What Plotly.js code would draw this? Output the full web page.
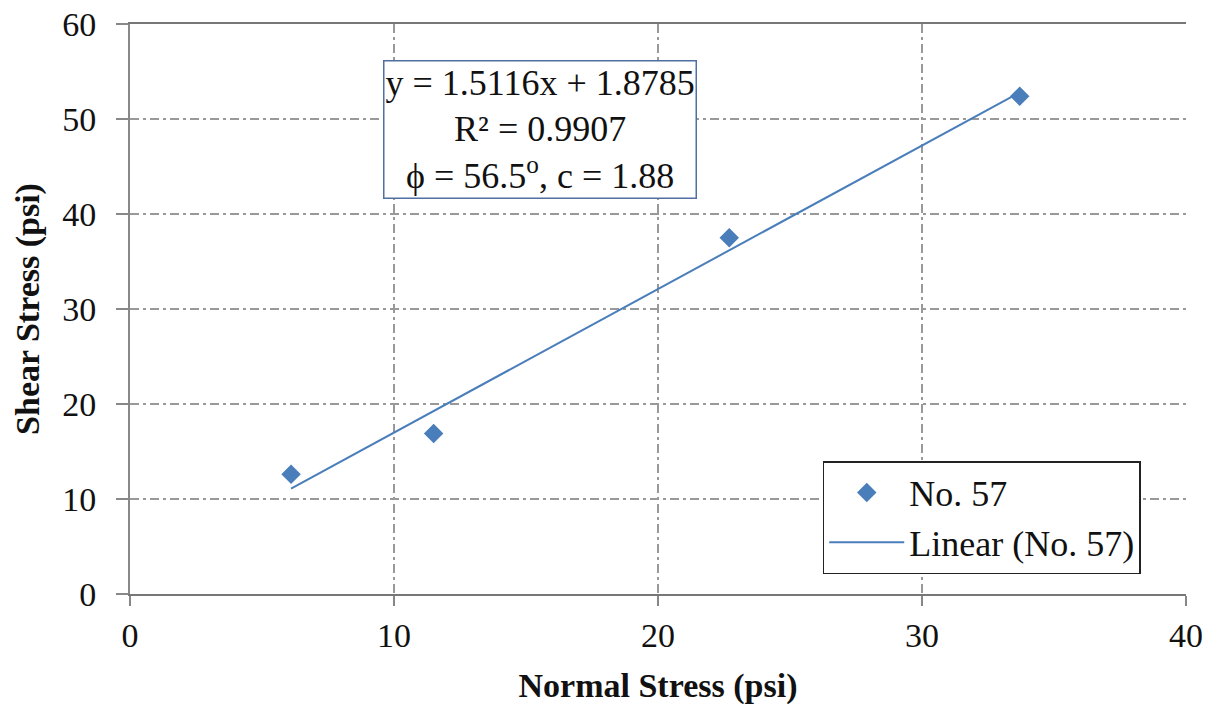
<!DOCTYPE html>
<html>
<head>
<meta charset="utf-8">
<script src="https://cdn.plot.ly/plotly-3.0.1.min.js"></script>
<style>html,body{margin:0;padding:0;background:#fff;}#chart{width:1210px;height:705px;}</style>
</head>
<body>
<div id="chart"></div>
<script>
// Data
const normalStress = [6.1, 11.5, 22.7, 33.7];
const shearStress = [12.6, 16.9, 37.5, 52.4];
const trendX = [6.1, 33.7];
const trendY = [11.1, 52.8];
const xTicks = [0, 10, 20, 30, 40];
const yTicks = [0, 10, 20, 30, 40, 50, 60];
const seriesName = "No. 57";
const trendName = "Linear (No. 57)";
const eqLines = ["y = 1.5116x + 1.8785", "R² = 0.9907", "ϕ = 56.5<sup>o</sup>, c = 1.88"];

const FONT = "Liberation Serif";
const gridDash = "9px,4px,3px,4px";

const traces = [
  {
    x: normalStress, y: shearStress, type: "scatter", mode: "markers", name: seriesName,
    marker: {symbol: "diamond", size: 15, color: "#4A7EBB"}
  },
  {
    x: trendX, y: trendY, type: "scatter", mode: "lines", name: trendName,
    line: {color: "#4A7EBB", width: 2}
  }
];

const layout = {
  width: 1210, height: 705,
  margin: {l: 130, r: 24, t: 24, b: 111},
  paper_bgcolor: "#fff", plot_bgcolor: "#fff",
  font: {family: FONT, size: 34, color: "#111"},
  showlegend: true,
  legend: {
    x: 0.656, y: 0.2333, xanchor: "left", yanchor: "top",
    bgcolor: "#fff", bordercolor: "#222", borderwidth: 1.5,
    font: {family: FONT, size: 36, color: "#111"},
    itemwidth: 75,
    tracegroupgap: 0
  },
  xaxis: {
    range: [0, 40], tickvals: xTicks, ticktext: xTicks.map(String),
    showgrid: true, gridcolor: "#999", griddash: gridDash, gridwidth: 1.5,
    showline: true, linecolor: "#777", linewidth: 2, mirror: true,
    ticks: "outside", ticklen: 10, tickcolor: "#888", tickwidth: 1.5,
    zeroline: false,
    tickfont: {family: FONT, size: 34, color: "#111"},
    title: {text: "<b>Normal Stress (psi)</b>", font: {family: FONT, size: 34, color: "#111"}, standoff: 21}
  },
  yaxis: {
    range: [0, 60], tickvals: yTicks, ticktext: yTicks.map(String),
    showgrid: true, gridcolor: "#999", griddash: gridDash, gridwidth: 1.5,
    showline: true, linecolor: "#888", linewidth: 2,
    ticks: "outside", ticklen: 12, tickcolor: "#888", tickwidth: 1.5,
    zeroline: false,
    ticklabelstandoff: 13,
    tickfont: {family: FONT, size: 34, color: "#111"},
    title: {text: "<b>Shear Stress (psi)</b>", font: {family: FONT, size: 34, color: "#111"}, standoff: 12}
  },
  annotations: [
    {
      xref: "paper", yref: "paper", x: 0.3885, y: 0.815, xanchor: "center", yanchor: "middle",
      text: eqLines.join("<br>"), showarrow: false, align: "center",
      font: {family: FONT, size: 36, color: "#111"},
      bgcolor: "#fff", bordercolor: "#4F6FA0", borderwidth: 1.5, borderpad: 1
    }
  ]
};

Plotly.newPlot("chart", traces, layout, {displayModeBar: false, staticPlot: true});
</script>
</body>
</html>
